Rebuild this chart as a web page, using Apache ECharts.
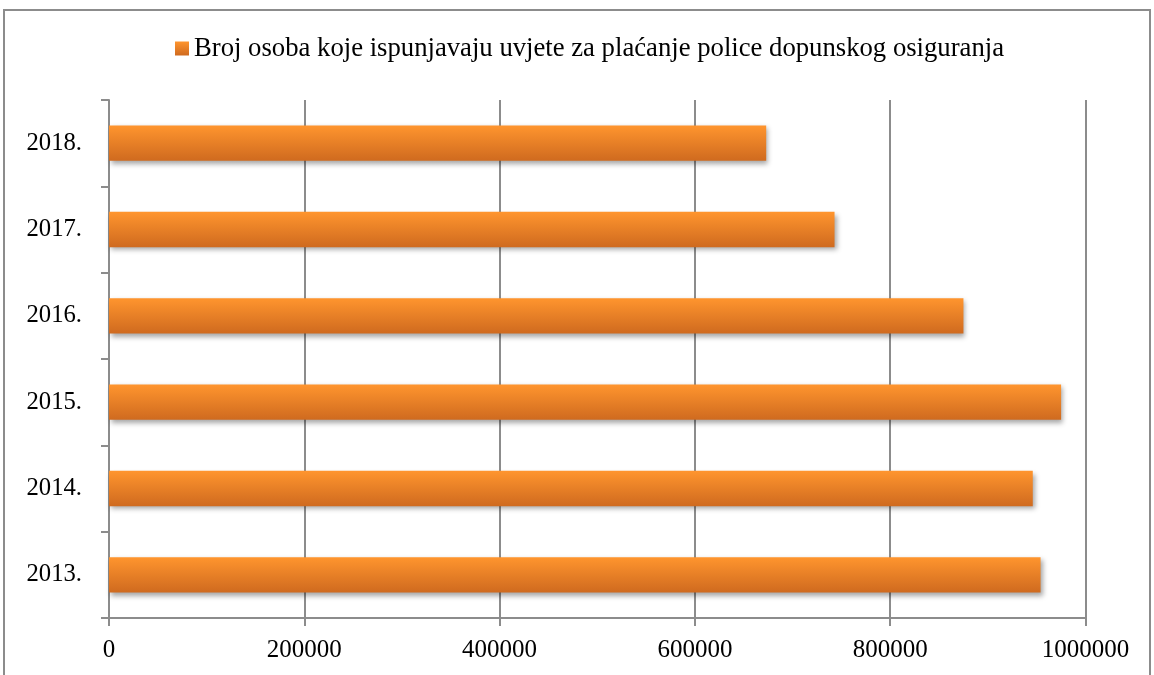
<!DOCTYPE html>
<html><head><meta charset="utf-8">
<script src="https://cdn.jsdelivr.net/npm/echarts@6/dist/echarts.min.js"></script>
<style>html,body{margin:0;padding:0;background:#fff}#c{width:1154px;height:675px}</style>
</head><body><div id="c"></div>
<script>
const categories = ['2013.', '2014.', '2015.', '2016.', '2017.', '2018.'];
const values = [954000, 946000, 975000, 875000, 743000, 673000];
const seriesName = 'Broj osoba koje ispunjavaju uvjete za plaćanje police dopunskog osiguranja';
const xTicks = { min: 0, max: 1000000, interval: 200000 };

const font = '"Liberation Serif", "Times New Roman", serif';
const chart = echarts.init(document.getElementById('c'));
chart.setOption({
  animation: false,
  backgroundColor: '#fff',
  graphic: [{ type: 'rect', shape: { x: 4, y: 10, width: 1146, height: 700 }, style: { fill: 'none', stroke: '#8c8c8c', lineWidth: 2 }, silent: true }],
  legend: {
    top: 35, left: 175, padding: 0, itemWidth: 14, itemHeight: 14, itemGap: 5,
    icon: 'rect',
    textStyle: { fontFamily: font, fontSize: 26.7, color: '#000', padding: [0, 0, 0, 0] },
    data: [seriesName]
  },
  grid: { left: 109, right: 68.5, top: 100, bottom: 57, containLabel: false },
  xAxis: {
    type: 'value', min: xTicks.min, max: xTicks.max, interval: xTicks.interval,
    axisLine: { show: true, lineStyle: { color: '#8c8c8c', width: 2 } },
    axisTick: { show: true, length: 8, lineStyle: { color: '#8c8c8c', width: 2 } },
    splitLine: { show: true, lineStyle: { color: '#8c8c8c', width: 2 } },
    axisLabel: { fontFamily: font, fontSize: 25, color: '#000', margin: 20, formatter: v => String(v) }
  },
  yAxis: {
    type: 'category', data: categories,
    axisLine: { show: true, lineStyle: { color: '#8c8c8c', width: 2 } },
    axisTick: { show: true, length: 8, alignWithLabel: false, lineStyle: { color: '#8c8c8c', width: 2 } },
    axisLabel: { fontFamily: font, fontSize: 24.7, color: '#000', margin: 27 }
  },
  series: [{
    name: seriesName, type: 'bar', data: values, barCategoryGap: '59%',
    itemStyle: {
      color: new echarts.graphic.LinearGradient(0, 0, 0, 1, [
        { offset: 0, color: '#ff952e' }, { offset: 1, color: '#cf6a1f' }
      ]),
      shadowColor: 'rgba(0,0,0,0.35)', shadowBlur: 5, shadowOffsetX: 2, shadowOffsetY: 3
    }
  }]
});
</script></body></html>
